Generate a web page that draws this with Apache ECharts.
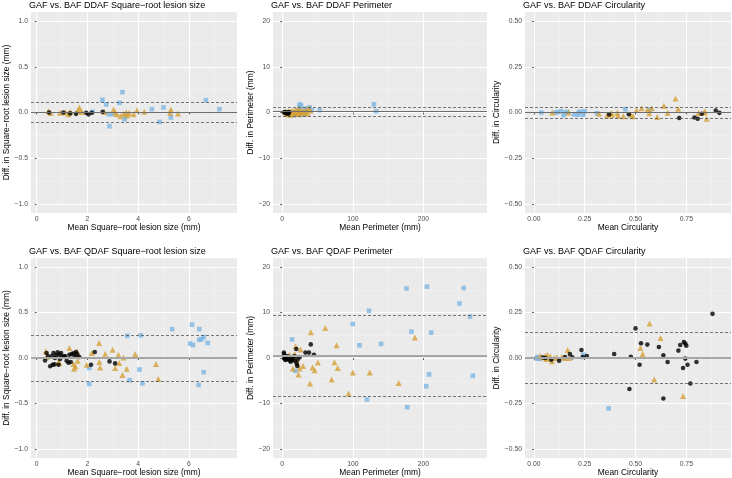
<!DOCTYPE html>
<html>
<head>
<meta charset="utf-8">
<script src="https://cdn.jsdelivr.net/npm/echarts@6/dist/echarts.min.js"></script>
<style>
  html, body { margin: 0; padding: 0; background: #fff; }
  #chart { width: 732px; height: 478px; }
</style>
</head>
<body>
<div id="chart"></div>
<script>
// ---- data: [mean, diff] ----
var p1Black = [[0.49,0.0],[1.05,0.0],[1.32,-0.01],[1.55,-0.015],[1.95,-0.003],[2.04,-0.02],[2.17,-0.003],[2.6,0.007]];
var p1Gold = [[0.46,0.015],[0.55,-0.005],[0.92,-0.003],[1.14,0.0],[1.25,-0.02],[1.32,0.007],[1.6,0.015],[1.68,0.055],[1.71,0.025],[1.78,0.005],[2.66,0.005],[3.03,0.033],[3.09,0.0],[3.16,-0.02],[3.3,-0.04],[3.42,-0.015],[3.53,0.0],[3.58,-0.03],[3.64,-0.005],[3.82,-0.02],[3.95,0.025],[4.24,0.007],[5.26,-0.003],[5.29,0.033],[5.57,-0.01]];
var p1Blue = [[2.2,0.007],[2.59,0.139],[2.74,0.088],[2.83,-0.018],[2.87,-0.15],[2.96,-0.02],[3.26,0.106],[3.38,0.223],[3.46,-0.073],[3.5,-0.047],[4.54,0.036],[5.0,0.055],[4.84,-0.102],[5.29,-0.055],[6.67,0.135],[7.2,0.036]];

var p2Black = [[3,0.1],[4.5,-0.1],[5.5,0.0],[6.5,-0.2],[7.5,0.05],[8.5,-0.25],[9,-0.1],[10,0.1]];
var p2Gold = [[4,0.2],[5,-0.2],[6,0.1],[8,-0.4],[9,0.3],[11,-0.1],[12,-0.5],[13,0.2],[15,0.4],[16,-0.3],[17,0.1],[19,0.6],[20,-0.2],[21,0.3],[23,0.8],[24,-0.4],[25,0.2],[27,0.5],[28,-0.1],[30,0.3],[32,0.0],[34,0.6],[36,-0.2],[38,0.9],[40,0.4]];
var p2Blue = [[17,-0.6],[20,-0.3],[22,0.4],[24,1.2],[25,1.8],[27,1.5],[28,-0.4],[30,0.6],[31,-0.5],[33,0.1],[35,0.9],[39,1.1],[42,0.5],[53,0.5],[130,1.8],[133,0.3]];

var p3Black = [[0.37,-0.011],[0.467,-0.009],[0.715,-0.03],[0.79,-0.027],[0.806,-0.034],[0.826,-0.007],[0.895,0.011],[0.913,-0.002]];
var p3Gold = [[0.09,0.0],[0.171,0.0],[0.32,-0.007],[0.36,-0.016],[0.38,-0.003],[0.385,-0.012],[0.41,-0.002],[0.414,-0.018],[0.44,-0.02],[0.477,-0.012],[0.488,-0.021],[0.505,0.014],[0.53,0.023],[0.56,0.018],[0.567,-0.004],[0.58,0.023],[0.607,-0.025],[0.64,0.037],[0.658,-0.002],[0.697,0.077],[0.71,0.021],[0.81,-0.003],[0.837,0.0],[0.842,0.005],[0.85,-0.034]];
var p3Blue = [[0.036,0.0],[0.107,0.0],[0.118,0.002],[0.135,0.007],[0.146,-0.014],[0.156,0.0],[0.165,0.002],[0.197,-0.011],[0.217,-0.012],[0.22,0.0],[0.229,0.005],[0.242,-0.012],[0.25,0.007],[0.31,-0.004],[0.45,0.018],[0.57,0.016]];

var p4Black = [[0.33,-0.026],[0.39,0.055],[0.45,0.02],[0.53,-0.09],[0.59,0.018],[0.63,-0.074],[0.66,0.055],[0.7,-0.07],[0.72,0.0],[0.76,0.03],[0.82,0.063],[0.86,-0.074],[0.89,0.037],[0.92,-0.011],[0.96,0.055],[1.0,0.015],[1.08,0.02],[1.12,0.02],[1.18,-0.03],[1.25,-0.052],[1.29,0.037],[1.34,-0.044],[1.38,0.044],[1.45,0.052],[1.5,0.02],[1.55,0.067],[1.6,0.04],[1.68,0.011],[2.14,-0.074],[2.29,0.067],[2.87,-0.037],[3.09,-0.059]];
var p4Gold = [[0.36,0.074],[0.39,0.011],[0.86,-0.037],[0.89,-0.055],[1.29,0.11],[1.45,-0.066],[1.47,-0.118],[1.53,-0.092],[1.58,0.074],[1.62,0.026],[1.61,-0.03],[1.97,-0.074],[2.17,0.055],[2.46,0.166],[2.47,-0.044],[2.5,-0.103],[2.7,0.048],[2.99,0.092],[3.09,-0.11],[3.22,0.037],[3.25,-0.055],[3.42,0.007],[3.38,-0.185],[3.55,-0.118],[3.88,0.044],[4.7,-0.066],[4.79,-0.23]];
var p4Blue = [[2.07,-0.11],[2.07,-0.285],[3.57,0.244],[3.66,-0.244],[4.1,0.25],[4.05,-0.126],[4.17,-0.278],[5.34,0.318],[6.05,0.159],[6.12,0.368],[6.16,0.143],[6.41,0.318],[6.41,0.2],[6.49,0.207],[6.58,0.23],[6.58,-0.155],[6.38,-0.296],[6.74,0.166]];

var p5Black = [[2.4,1.2],[2.8,0.8],[3.3,0.5],[3.3,-0.1],[4,0.2],[4.3,-0.4],[5.7,0.1],[6,-0.3],[7,0.3],[8,0.4],[9,-0.2],[10.5,-0.5],[11,0.1],[12,-0.8],[14,-0.4],[15,0.0],[16,0.3],[17.6,0.4],[18,-0.6],[20,2.0],[20.5,-1.2],[21.4,-1.75],[22,-0.3],[24.8,0.2],[33,1.2],[38,1.2],[40.5,3.0],[45,0.7]];
var p5Gold = [[4.8,0.2],[8,-0.1],[10.5,0.7],[13,-0.3],[15,-2.3],[17.6,0.9],[19,2.6],[20,-0.4],[21.4,-1.2],[23,-3.6],[24.8,-2.3],[26,1.9],[29.5,-1.75],[40.5,5.7],[39.5,-5.6],[43,-2.1],[46,-2.7],[50.5,-1.0],[61,6.6],[70,-4.7],[74,-0.9],[77,2.8],[78.6,-2.2],[94,-7.8],[100,-3.2],[124,-3.2],[165,-5.5],[188,4.5]];
var p5Blue = [[14,4.1],[18.6,-2.8],[100,7.5],[109.5,2.8],[123,10.4],[120,-9.1],[140,3.1],[176,15.3],[177,-10.8],[183,5.8],[205,15.7],[204,-6.2],[208,-3.6],[211,5.6],[251,12.0],[257,15.4],[266,9.1],[270,-3.9]];

var p6Black = [[0.045,0.003],[0.056,0.0],[0.085,-0.009],[0.124,-0.015],[0.153,0.006],[0.177,0.022],[0.189,0.004],[0.234,0.044],[0.24,0.006],[0.26,0.011],[0.395,0.022],[0.47,-0.17],[0.477,0.007],[0.5,0.163],[0.52,-0.037],[0.527,0.081],[0.558,0.074],[0.615,0.061],[0.637,0.015],[0.637,-0.222],[0.658,-0.022],[0.711,0.041],[0.72,0.072],[0.734,-0.055],[0.738,0.088],[0.745,0.08],[0.745,-0.003],[0.75,0.068],[0.756,-0.037],[0.77,-0.14],[0.8,-0.022],[0.879,0.243]];
var p6Gold = [[0.03,0.013],[0.04,0.005],[0.055,0.01],[0.06,-0.005],[0.065,0.018],[0.073,0.0],[0.08,0.01],[0.089,-0.018],[0.1,0.0],[0.113,0.005],[0.137,0.006],[0.15,0.0],[0.166,0.044],[0.172,0.0],[0.524,0.055],[0.535,0.022],[0.569,0.19],[0.623,0.11],[0.592,-0.118],[0.734,-0.209]];
var p6Blue = [[0.013,-0.002],[0.016,0.0],[0.018,0.005],[0.02,0.002],[0.022,-0.003],[0.024,0.004],[0.026,0.003],[0.029,-0.004],[0.244,0.018],[0.368,-0.277]];

// mean difference and limits of agreement, one per panel
var meanDiff = [0.0015, 0.17, -0.001, 0.002, 0.55, 0.002];
var upperLoA = [0.111, 1.1, 0.034, 0.25, 9.4, 0.139];
var lowerLoA = [-0.108, -0.75, -0.034, -0.246, -8.3, -0.135];

var titles = [
  'GAF vs. BAF DDAF Square\u2212root lesion size',
  'GAF vs. BAF DDAF Perimeter',
  'GAF vs. BAF DDAF Circularity',
  'GAF vs. BAF QDAF Square\u2212root lesion size',
  'GAF vs. BAF QDAF Perimeter',
  'GAF vs. BAF QDAF Circularity'
];
var xNames = ['Mean Square\u2212root lesion size (mm)', 'Mean Perimeter (mm)', 'Mean Circularity'];
var yNames = ['Diff. in Square\u2212root lesion size (mm)', 'Diff. in Perimeter (mm)', 'Diff. in Circularity'];

// tick labels per column
var xTicks = [[0, 2, 4, 6], [0, 100, 200], [0, 0.25, 0.5, 0.75]];
var xMinorTicks = [[1, 3, 5, 7], [50, 150, 250], [0.125, 0.375, 0.625, 0.875]];
var yTicks = [[-1, -0.5, 0, 0.5, 1], [-20, -10, 0, 10, 20], [-0.5, -0.25, 0, 0.25, 0.5]];
var yMinorTicks = [[-0.75, -0.25, 0.25, 0.75], [-15, -5, 5, 15], [-0.375, -0.125, 0.125, 0.375]];

var blackSets = [p1Black, p2Black, p3Black, p4Black, p5Black, p6Black];
var goldSets = [p1Gold, p2Gold, p3Gold, p4Gold, p5Gold, p6Gold];
var blueSets = [p1Blue, p2Blue, p3Blue, p4Blue, p5Blue, p6Blue];

// ---- layout ----
var colLeft = [31, 273, 525];
var colWidth = [206, 214, 206];
var rowTop = [12, 258];
var plotH = 201;
var xRange = [[-0.225, 7.895], [-13, 290], [-0.044, 0.97]];
var yRange = [[-1.1, 1.1], [-22, 22], [-0.55, 0.55]];
var yNameGap = [20, 17, 23];
var decimals = [[0, 1], [0, 0], [2, 2]];

function minusFmt(d) {
  return function (v) { return v.toFixed(d).replace('-', '\u2212'); };
}

var grids = [], xAxes = [], yAxes = [], series = [], titleList = [];
var font = 'Liberation Sans, Arial, sans-serif';

for (var i = 0; i < 6; i++) {
  var c = i % 3, r = Math.floor(i / 3);
  grids.push({
    left: colLeft[c], top: rowTop[r], width: colWidth[c], height: plotH,
    show: true, backgroundColor: '#EBEBEB', borderWidth: 0
  });
  titleList.push({
    text: titles[i], left: colLeft[c] - 2, top: rowTop[r] - 11, padding: 0,
    textStyle: { fontSize: 9, fontWeight: 'normal', color: '#000', fontFamily: font }
  });
  // major x
  xAxes.push({
    gridIndex: i, type: 'value', min: xRange[c][0], max: xRange[c][1],
    name: xNames[c], nameLocation: 'middle', nameGap: 10,
    nameTextStyle: { fontSize: 8.4, color: '#000', fontFamily: font },
    axisLine: { show: false },
    axisTick: { show: true, length: 2, customValues: xTicks[c], lineStyle: { color: '#333', width: 0.8 } },
    axisLabel: { customValues: xTicks[c], formatter: minusFmt(decimals[c][0]), margin: 3, fontSize: 6.8, color: '#4D4D4D', fontFamily: font },
    splitLine: { show: true, lineStyle: { color: '#FFFFFF', width: 1 } }
  });
  // minor x
  xAxes.push({
    gridIndex: i, type: 'value', min: xRange[c][0], max: xRange[c][1], position: 'bottom',
    axisLine: { show: false }, axisTick: { show: false, customValues: xMinorTicks[c] },
    axisLabel: { show: false, customValues: xMinorTicks[c] },
    splitLine: { show: true, lineStyle: { color: '#F5F5F5', width: 0.5 } }
  });
  // major y
  yAxes.push({
    gridIndex: i, type: 'value', min: yRange[c][0], max: yRange[c][1],
    name: yNames[c], nameLocation: 'middle', nameGap: yNameGap[c],
    nameTextStyle: { fontSize: 8.4, color: '#000', fontFamily: font },
    axisLine: { show: false },
    axisTick: { show: true, length: 2, customValues: yTicks[c], lineStyle: { color: '#333', width: 0.8 } },
    axisLabel: { customValues: yTicks[c], formatter: minusFmt(decimals[c][1]), margin: 3, fontSize: 6.8, color: '#4D4D4D', fontFamily: font },
    splitLine: { show: true, lineStyle: { color: '#FFFFFF', width: 1 } }
  });
  // minor y
  yAxes.push({
    gridIndex: i, type: 'value', min: yRange[c][0], max: yRange[c][1], position: 'left',
    axisLine: { show: false }, axisTick: { show: false, customValues: yMinorTicks[c] },
    axisLabel: { show: false, customValues: yMinorTicks[c] },
    splitLine: { show: true, lineStyle: { color: '#F5F5F5', width: 0.5 } }
  });

  var xi = 2 * i, yi = 2 * i;
  var lineColor = r === 0 ? '#6E6E6E' : '#A6A6A6';
  var lineWidth = r === 0 ? 1.2 : 2;
  series.push({
    type: 'scatter', xAxisIndex: xi, yAxisIndex: yi, data: [], z: 1, silent: true,
    markLine: {
      silent: true, symbol: 'none', animation: false, label: { show: false },
      data: [
        { yAxis: meanDiff[i], lineStyle: { type: 'solid', color: lineColor, width: lineWidth } },
        { yAxis: upperLoA[i], lineStyle: { type: [3, 2], color: '#555', width: 0.8 } },
        { yAxis: lowerLoA[i], lineStyle: { type: [3, 2], color: '#555', width: 0.8 } }
      ]
    }
  });
  series.push({
    type: 'scatter', xAxisIndex: xi, yAxisIndex: yi, data: blueSets[i], z: 2,
    symbol: 'rect', symbolSize: 4.6, itemStyle: { color: '#7DB6E3' }
  });
  series.push({
    type: 'scatter', xAxisIndex: xi, yAxisIndex: yi, data: goldSets[i], z: 3,
    symbol: 'triangle', symbolSize: 6, itemStyle: { color: '#D4A037' }
  });
  series.push({
    type: 'scatter', xAxisIndex: xi, yAxisIndex: yi, data: blackSets[i], z: 4,
    symbol: 'circle', symbolSize: 4.6, itemStyle: { color: '#000000' }
  });
}

var chart = echarts.init(document.getElementById('chart'));
chart.setOption({
  animation: false,
  textStyle: { fontFamily: font },
  title: titleList,
  grid: grids,
  xAxis: xAxes,
  yAxis: yAxes,
  series: series
});
</script>
</body>
</html>
